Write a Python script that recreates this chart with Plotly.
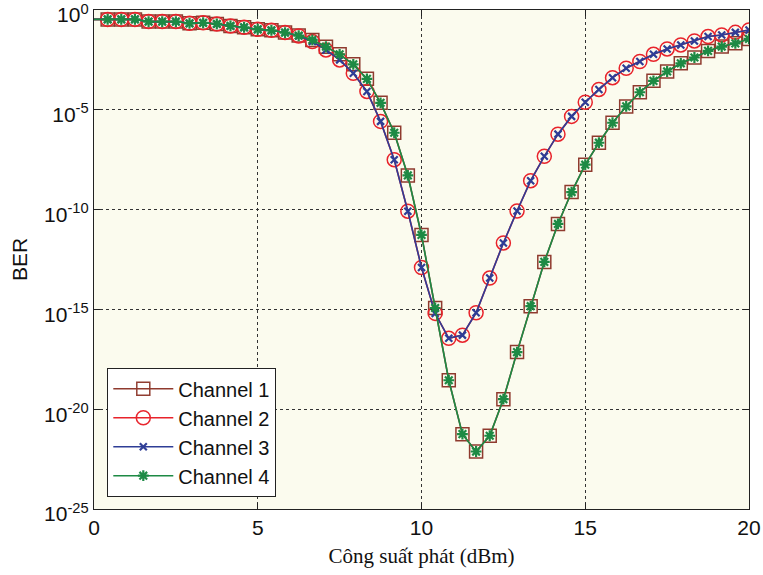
import plotly.graph_objects as go

# x positions (dBm)
power_dbm = [0, 0.417, 0.833, 1.25, 1.667, 2.083, 2.5, 2.917, 3.333, 3.75, 4.167,
             4.583, 5.0, 5.417, 5.833, 6.25, 6.667, 7.083, 7.5, 7.917, 8.333,
             8.75, 9.167, 9.583, 10.0, 10.417, 10.833, 11.25, 11.667, 12.083, 12.5,
             12.917, 13.333, 13.75, 14.167, 14.583, 15.0, 15.417, 15.833, 16.25,
             16.667, 17.083, 17.5, 17.917, 18.333, 18.75, 19.167, 19.583, 20.0]

# log10(BER)
ch1_log = [-0.47, -0.47, -0.47, -0.47, -0.58, -0.58, -0.58, -0.67, -0.64, -0.70,
           -0.80, -0.87, -0.97, -1.02, -1.13, -1.28, -1.50, -1.84, -2.22, -2.72,
           -3.45, -4.65, -6.15, -8.29, -11.27, -14.93, -18.55, -21.25, -22.12,
           -21.33, -19.5, -17.14, -14.84, -12.62, -10.72, -9.12, -7.75, -6.65,
           -5.65, -4.83, -4.12, -3.55, -3.08, -2.67, -2.38, -2.05, -1.83, -1.67, -1.45]
ch2_log = [-0.47, -0.47, -0.47, -0.47, -0.58, -0.58, -0.58, -0.67, -0.64, -0.70,
           -0.80, -0.87, -0.97, -1.02, -1.13, -1.30, -1.58, -2.0, -2.5, -3.17,
           -4.08, -5.58, -7.5, -10.08, -12.9, -15.2, -16.45, -16.29, -15.17,
           -13.43, -11.67, -10.07, -8.55, -7.33, -6.22, -5.33, -4.62, -3.98,
           -3.39, -2.92, -2.58, -2.22, -1.95, -1.75, -1.55, -1.33, -1.25, -1.12, -1.0]
ch3_log = list(ch2_log)
ch4_log = list(ch1_log)

y_tickvals = [-25, -20, -15, -10, -5, 0]
y_ticktext = ["10<sup>-25</sup>", "10<sup>-20</sup>", "10<sup>-15</sup>",
              "10<sup>-10</sup>", "10<sup>-5</sup>", "10<sup>0</sup>"]
x_tickvals = [0, 5, 10, 15, 20]

series = [
    ("Channel 1", ch1_log, "#8f3a2e", "square-open", 13, 1.5),
    ("Channel 2", ch2_log, "#e8232b", "circle-open", 14, 1.5),
    ("Channel 3", ch3_log, "#2e3d96", "x-thin-open", 7, 2.2),
    ("Channel 4", ch4_log, "#1d8a44", "asterisk-open", 9, 2.2),
]

fig = go.Figure()
for name, ylog, color, sym, size, mlw in series:
    yv = [10 ** v for v in ylog]
    opac = [0] + [1] * (len(yv) - 1)
    fig.add_trace(go.Scatter(
        x=power_dbm, y=yv, name=name, mode="lines+markers",
        line=dict(color=color, width=1.6),
        marker=dict(symbol=sym, size=size, color=color, opacity=opac,
                    line=dict(color=color, width=mlw)),
        cliponaxis=True,
    ))

fig.update_layout(
    width=763, height=575,
    margin=dict(l=94, r=14, t=10, b=66),
    paper_bgcolor="white",
    plot_bgcolor="#fbfbee",
    font=dict(family="Liberation Sans, Arial, sans-serif", size=21, color="#111"),
    showlegend=True,
    legend=dict(
        x=0.02, y=0.024, xanchor="left", yanchor="bottom",
        bgcolor="white", bordercolor="#222", borderwidth=1.2,
        font=dict(size=20, family="Liberation Sans, Arial, sans-serif"),
        tracegroupgap=0, itemwidth=60,
    ),
)
fig.update_xaxes(
    range=[0, 20], tickvals=x_tickvals, automargin=False,
    showline=True, linecolor="#222", linewidth=1.3, mirror="ticks",
    ticks="inside", ticklen=6, tickcolor="#222",
    showgrid=True, gridcolor="#333", griddash="dot", gridwidth=1,
    zeroline=False, ticklabeloverflow="allow",
    title=dict(text="Công suất phát (dBm)", standoff=9,
               font=dict(family="Liberation Serif, Times New Roman, serif", size=21)),
)
fig.update_yaxes(
    type="log", range=[-25, 0], automargin=False,
    tickvals=[10 ** v for v in y_tickvals], ticktext=y_ticktext,
    showline=True, linecolor="#222", linewidth=1.3, mirror="ticks",
    ticks="inside", ticklen=6, tickcolor="#222",
    showgrid=True, gridcolor="#333", griddash="dot", gridwidth=1,
    zeroline=False, ticklabeloverflow="allow", ticklabelshift=5,
    title=dict(text="BER", standoff=10, font=dict(size=21)),
)

fig.write_html("out.html")
